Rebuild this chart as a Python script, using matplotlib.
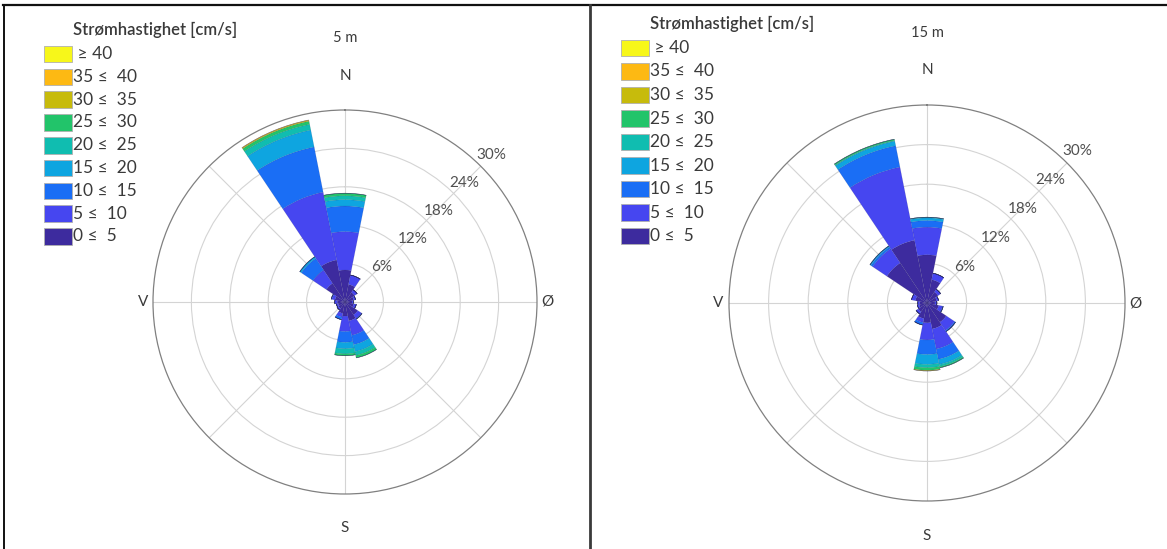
import numpy as np
import matplotlib.pyplot as plt
from matplotlib.patches import Rectangle
from matplotlib.lines import Line2D

plt.rcParams['font.family'] = ['Lato', 'DejaVu Sans']

# Directions (16 sectors, clockwise from north)
directions = ['N', 'NNE', 'NE', 'ENE', 'E', 'ESE', 'SE', 'SSE',
              'S', 'SSW', 'SW', 'WSW', 'W', 'WNW', 'NW', 'NNW']

# Speed classes [cm/s]
speed_labels = ['0 \u2264  5', '5 \u2264  10', '10 \u2264  15', '15 \u2264  20', '20 \u2264  25',
                '25 \u2264  30', '30 \u2264  35', '35 \u2264  40', ' \u2265 40']
speed_colors = ['#3d2b9e', '#4646f0', '#1a6ef5', '#0ea5e0', '#10bdb0',
                '#22c46a', '#c7bb0c', '#fdb913', '#f7f71a']

# Frequency [%] per direction (rows) and speed class (columns), 5 m depth
freq_5m = [
    [5.0, 6.0, 4.0, 1.0, 0.6, 0.4, 0.0, 0.0, 0.0],   # N
    [2.8, 1.5, 0.0, 0.0, 0.0, 0.0, 0.0, 0.0, 0.0],   # NNE
    [1.8, 0.5, 0.0, 0.0, 0.0, 0.0, 0.0, 0.0, 0.0],   # NE
    [1.4, 0.3, 0.0, 0.0, 0.0, 0.0, 0.0, 0.0, 0.0],   # ENE
    [1.1, 0.2, 0.0, 0.0, 0.0, 0.0, 0.0, 0.0, 0.0],   # E
    [1.4, 0.4, 0.0, 0.0, 0.0, 0.0, 0.0, 0.0, 0.0],   # ESE
    [2.4, 0.7, 0.1, 0.0, 0.0, 0.0, 0.0, 0.0, 0.0],   # SE
    [3.0, 2.3, 1.5, 1.1, 0.6, 0.4, 0.0, 0.0, 0.0],   # SSE
    [2.2, 2.4, 1.7, 1.0, 0.8, 0.3, 0.0, 0.0, 0.0],   # S
    [1.8, 0.6, 0.4, 0.0, 0.0, 0.0, 0.0, 0.0, 0.0],   # SSW
    [1.2, 0.3, 0.0, 0.0, 0.0, 0.0, 0.0, 0.0, 0.0],   # SW
    [1.1, 0.3, 0.0, 0.0, 0.0, 0.0, 0.0, 0.0, 0.0],   # WSW
    [1.2, 0.4, 0.0, 0.0, 0.0, 0.0, 0.0, 0.0, 0.0],   # W
    [1.6, 0.5, 0.1, 0.0, 0.0, 0.0, 0.0, 0.0, 0.0],   # WNW
    [3.5, 2.5, 2.2, 0.3, 0.0, 0.0, 0.0, 0.0, 0.0],   # NW
    [6.7, 10.8, 7.2, 2.7, 0.9, 0.5, 0.15, 0.05, 0.0],  # NNW
]

# Frequency [%] per direction and speed class, 15 m depth
freq_15m = [
    [7.3, 4.2, 1.0, 0.4, 0.1, 0.0, 0.0, 0.0, 0.0],   # N
    [3.6, 1.0, 0.0, 0.0, 0.0, 0.0, 0.0, 0.0, 0.0],   # NNE
    [2.0, 0.5, 0.0, 0.0, 0.0, 0.0, 0.0, 0.0, 0.0],   # NE
    [1.5, 0.3, 0.0, 0.0, 0.0, 0.0, 0.0, 0.0, 0.0],   # ENE
    [1.2, 0.3, 0.0, 0.0, 0.0, 0.0, 0.0, 0.0, 0.0],   # E
    [1.8, 0.6, 0.1, 0.0, 0.0, 0.0, 0.0, 0.0, 0.0],   # ESE
    [3.5, 1.5, 0.2, 0.0, 0.0, 0.0, 0.0, 0.0, 0.0],   # SE
    [4.0, 3.1, 1.6, 0.8, 0.3, 0.2, 0.0, 0.0, 0.0],   # SSE
    [3.0, 2.6, 2.2, 1.5, 0.5, 0.4, 0.1, 0.0, 0.0],   # S
    [2.4, 0.6, 0.4, 0.0, 0.0, 0.0, 0.0, 0.0, 0.0],   # SSW
    [1.6, 0.4, 0.0, 0.0, 0.0, 0.0, 0.0, 0.0, 0.0],   # SW
    [1.2, 0.3, 0.0, 0.0, 0.0, 0.0, 0.0, 0.0, 0.0],   # WSW
    [1.1, 0.3, 0.0, 0.0, 0.0, 0.0, 0.0, 0.0, 0.0],   # W
    [1.8, 0.6, 0.0, 0.0, 0.0, 0.0, 0.0, 0.0, 0.0],   # WNW
    [7.3, 2.6, 0.3, 0.2, 0.0, 0.0, 0.0, 0.0, 0.0],   # NW
    [9.7, 11.3, 3.3, 0.7, 0.1, 0.2, 0.0, 0.0, 0.0],  # NNW
]

depth_titles = ['5 m', '15 m']
ring_values = [6, 12, 18, 24, 30]
compass_labels = ['N', '\u00d8', 'S', 'V']

W, H = 1167, 549
fig = plt.figure(figsize=(W / 100, H / 100), dpi=100)
fig.patch.set_facecolor('white')

txt_col = '#3a3a3a'


def px_rect(cx, cy, r):
    return [(cx - r) / W, (H - cy - r) / H, 2 * r / W, 2 * r / H]


def draw_rose(ax, freq):
    ax.set_theta_zero_location('N')
    ax.set_theta_direction(-1)
    ax.set_ylim(0, 30)
    ax.set_axisbelow(True)
    ax.set_xticks(np.deg2rad(np.arange(0, 360, 45)))
    ax.set_xticklabels([])
    ax.set_yticks(ring_values[:-1])
    ax.set_yticklabels([])
    ax.grid(True, color='#d4d4d4', lw=0.8)
    ax.spines['polar'].set_color('#808080')
    ax.spines['polar'].set_linewidth(0.9)

    data = np.array(freq)
    theta = np.deg2rad(np.arange(len(directions)) * 360 / len(directions))
    width = 2 * np.pi / len(directions)
    bottom = np.zeros(len(directions))
    for k in range(data.shape[1]):
        ax.bar(theta, data[:, k], width=width, bottom=bottom,
               color=speed_colors[k], edgecolor=(0.1, 0.1, 0.3, 0.2),
               linewidth=0.35, zorder=3)
        bottom += data[:, k]

    for rv in ring_values:
        ax.text(np.deg2rad(43), rv, f'{rv}%', ha='left', va='bottom',
                fontsize=11, color='#505050', zorder=5)

    # compass letters
    for ang, lab, rr in zip([0, 90, 180, 270], compass_labels, [35.3, 31.6, 35.3, 31.6]):
        ax.text(np.deg2rad(ang), rr, lab, ha='center', va='center',
                fontsize=11, color=txt_col, clip_on=False)


def draw_legend(x0, y_title, y_first, step):
    fig.text((x0 + 29) / W, 1 - y_title / H, 'Str\u00f8mhastighet [cm/s]',
             ha='left', va='center', fontsize=12, fontweight='semibold', color=txt_col)
    order = list(range(len(speed_labels)))[::-1]
    for i, k in enumerate(order):
        yc = y_first + i * step
        fig.add_artist(Rectangle((x0 / W, 1 - (yc + 8.3) / H), 28 / W, 16.6 / H,
                                 transform=fig.transFigure, facecolor=speed_colors[k],
                                 edgecolor='#b0b0b0', linewidth=0.6))
        fig.text((x0 + 29) / W, 1 - yc / H, speed_labels[k], ha='left', va='center',
                 fontsize=12.5, color=txt_col)


ax1 = fig.add_axes(px_rect(345, 302, 192), projection='polar')
draw_rose(ax1, freq_5m)
ax2 = fig.add_axes(px_rect(927, 303, 198), projection='polar')
draw_rose(ax2, freq_15m)

fig.text(345 / W, 1 - 38 / H, depth_titles[0], ha='center', va='center',
         fontsize=10.5, color=txt_col)
fig.text(927 / W, 1 - 33 / H, depth_titles[1], ha='center', va='center',
         fontsize=10.5, color=txt_col)

draw_legend(44, 30, 54, 22.8)
draw_legend(621, 24, 48, 23.5)

# frame lines around the two panels
fig.add_artist(Line2D([3 / W, 1], [1 - 5 / H, 1 - 5 / H], transform=fig.transFigure,
                      color='#111111', lw=1.6))
fig.add_artist(Line2D([3.5 / W, 3.5 / W], [0, 1 - 5 / H], transform=fig.transFigure,
                      color='#111111', lw=1.4))
fig.add_artist(Line2D([590 / W, 590 / W], [0, 1 - 5 / H], transform=fig.transFigure,
                      color='#3a3a3a', lw=2.0))

fig.savefig('out.png', dpi=100, facecolor='white')
